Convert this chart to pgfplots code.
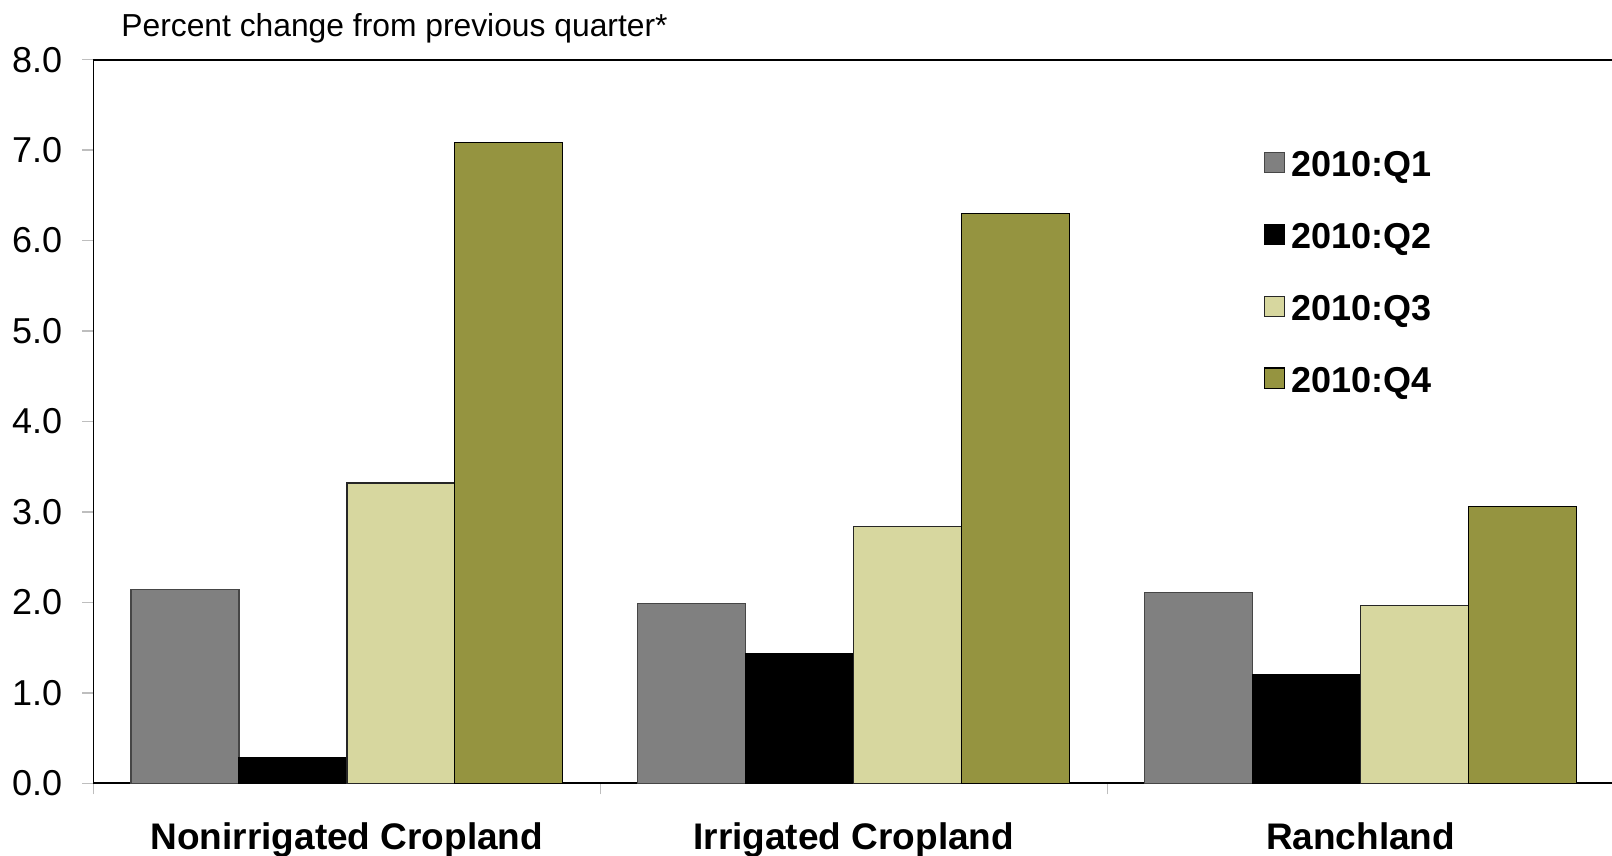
\documentclass[border=0pt]{standalone}
\usepackage{fontspec}
\setmainfont{Liberation Sans}
\usepackage{pgfplots}
\pgfplotsset{compat=1.18}

\definecolor{qone}{RGB}{128,128,128}
\definecolor{qoneedge}{RGB}{70,70,70}
\definecolor{qthree}{RGB}{215,215,159}
\definecolor{qfour}{RGB}{149,148,64}
\definecolor{tickgray}{RGB}{190,190,190}

% Quarterly percent change in land values, by land type (0 = Nonirrigated, 1 = Irrigated, 2 = Ranchland)
\begin{document}
\begin{tikzpicture}[x=1pt,y=1pt]
\path[use as bounding box] (0,0) rectangle (806,428);
\begin{axis}[
  at={(46.75pt,36.3pt)}, anchor=south west,
  scale only axis,
  width=760.25pt, height=361.9pt,
  xmin=-0.5, xmax=2.5,
  ymin=0, ymax=8,
  ytick={0,1,...,8},
  /pgf/number format/fixed,
  /pgf/number format/fixed zerofill,
  /pgf/number format/precision=1,
  /pgf/number format/assume math mode=true,
  yticklabel style={font=\fontsize{18}{20}\selectfont, inner sep=0pt, anchor=east, xshift=-10pt},
  xtick={-0.5,0.5,1.5,2.5},
  xticklabels={},
  extra x ticks={0,1,2},
  extra x tick labels={Nonirrigated Cropland,Irrigated Cropland,Ranchland},
  extra x tick style={major tick length=0pt,
    tick label style={font=\bfseries\fontsize{18.5}{20}\selectfont, inner sep=0pt, anchor=north, yshift=-19.5pt}},
  tick align=outside,
  major tick length=5.5pt,
  tick style={tickgray, line width=0.6pt},
  xtick pos=bottom, ytick pos=left,
  axis x line*=bottom, axis y line*=left,
  axis line style={black, line width=0.9pt, -},
  clip=false,
  legend cell align=left,
  legend style={at={(0.7695,0.879)}, anchor=north west, draw=none, fill=none,
    inner sep=0pt, outer sep=0pt, row sep=17.9pt,
    font=\bfseries\fontsize{18}{20}\selectfont},
  legend image code/.code={\draw[#1, line width=0.6pt] (0pt,-3.8pt) rectangle (10.3pt,6.5pt);
    \path (11.2pt,0pt);},
  every axis plot/.append style={ybar, bar width=0.213, line width=0.6pt},
]
\addplot[fill=qone, draw=qoneedge, bar shift=-0.3195] coordinates {(0,2.14) (1,1.99) (2,2.11)};
\addplot[fill=black, draw=black, bar shift=-0.1065] coordinates {(0,0.28) (1,1.43) (2,1.20)};
\addplot[fill=qthree, draw=black!85, bar shift=0.1065] coordinates {(0,3.32) (1,2.84) (2,1.97)};
\addplot[fill=qfour, draw=black, bar shift=0.3195] coordinates {(0,7.08) (1,6.30) (2,3.06)};
\legend{2010:Q1,2010:Q2,2010:Q3,2010:Q4}
\draw[black, line width=0.9pt] (rel axis cs:0,1) -- (rel axis cs:1,1);
\end{axis}
\node[anchor=base west, inner sep=0pt, font=\fontsize{15.9}{18}\selectfont] at (60.5,409.5) {Percent change from previous quarter*};
\end{tikzpicture}
\end{document}
